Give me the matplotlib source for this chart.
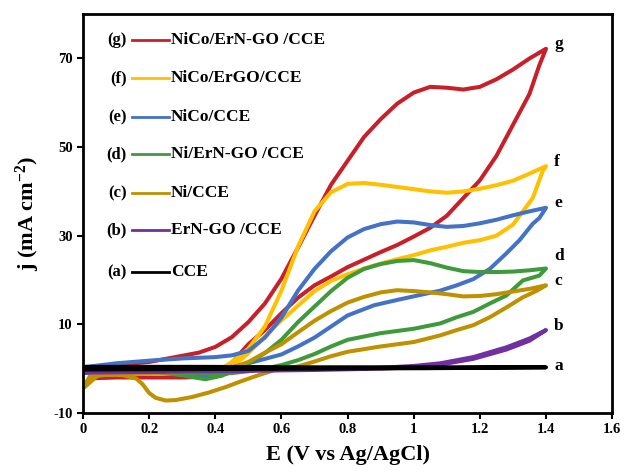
import matplotlib
matplotlib.use('Agg')
from matplotlib import pyplot as plt

# electrode labels, legend order (top to bottom)
tags = ['g', 'f', 'e', 'd', 'c', 'b', 'a']
names = ['NiCo/ErN-GO /CCE', 'NiCo/ErGO/CCE', 'NiCo/CCE', 'Ni/ErN-GO /CCE',
         'Ni/CCE', 'ErN-GO /CCE', 'CCE']
colors = ['#C8202A', '#FFC000', '#4472C4', '#3F9A3C', '#BF9000', '#7030A0', '#000000']

x_ticks = [0, 0.2, 0.4, 0.6, 0.8, 1.0, 1.2, 1.4, 1.6]
x_tick_labels = ['0', '0.2', '0.4', '0.6', '0.8', '1', '1.2', '1.4', '1.6']
y_ticks = [-10, 10, 30, 50, 70]
y_tick_labels = ['-10', '10', '30', '50', '70']

# (g) NiCo/ErN-GO/CCE, forward then reverse scan
g_E_fwd = [0.0, 0.1, 0.2, 0.3, 0.35, 0.4, 0.45, 0.5, 0.55, 0.6, 0.65, 0.7, 0.75, 0.8,
           0.85, 0.9, 0.95, 1.0, 1.05, 1.1, 1.15, 1.2, 1.25, 1.3, 1.35, 1.4]
g_j_fwd = [0.2, 0.8, 1.5, 2.9, 3.6, 4.9, 7.1, 10.5, 14.7, 20.3, 27.3, 34.5, 41.5, 46.9,
           52.3, 56.3, 59.8, 62.3, 63.6, 63.4, 63.0, 63.6, 65.3, 67.5, 70.0, 72.2]
g_E_rev = [1.38, 1.35, 1.3, 1.25, 1.2, 1.15, 1.1, 1.05, 1.0, 0.95, 0.9, 0.85, 0.8, 0.75,
           0.7, 0.65, 0.6, 0.55, 0.5, 0.47, 0.44, 0.4, 0.35, 0.3, 0.2, 0.1, 0.02, 0.0]
g_j_rev = [68.5, 62.0, 55.0, 48.0, 42.5, 38.5, 34.5, 31.8, 29.8, 27.9, 26.3, 24.6, 22.9, 20.8,
           18.8, 16.0, 12.5, 8.7, 5.5, 3.0, 0.5, -1.2, -1.9, -2.0, -2.0, -2.0, -2.2, -4.0]

# (f) NiCo/ErGO/CCE
f_E_fwd = [0.0, 0.1, 0.2, 0.3, 0.38, 0.42, 0.45, 0.5, 0.55, 0.6, 0.65, 0.7, 0.75, 0.8,
           0.85, 0.9, 0.95, 1.0, 1.05, 1.1, 1.15, 1.2, 1.25, 1.3, 1.35, 1.4]
f_j_fwd = [-0.5, -0.3, -0.2, -0.3, -0.6, 0.0, 1.5, 4.5, 9.5, 17.6, 27.5, 35.5, 39.8, 41.7,
           41.9, 41.5, 41.0, 40.5, 40.0, 39.7, 40.0, 40.6, 41.4, 42.4, 44.0, 45.7]
f_E_rev = [1.39, 1.36, 1.33, 1.3, 1.25, 1.2, 1.15, 1.1, 1.05, 1.0, 0.95, 0.9, 0.85, 0.8,
           0.75, 0.7, 0.65, 0.6, 0.55, 0.5, 0.45, 0.4, 0.35, 0.3, 0.2, 0.1, 0.0]
f_j_rev = [44.6, 38.5, 35.5, 32.5, 30.0, 29.0, 28.4, 27.5, 26.7, 25.6, 24.7, 23.7, 22.6, 21.3,
           19.8, 17.5, 14.2, 10.9, 7.2, 3.5, 0.3, -1.0, -1.0, -0.8, -0.8, -0.8, -1.0]

# (e) NiCo/CCE
e_E_fwd = [0.0, 0.1, 0.2, 0.3, 0.4, 0.45, 0.5, 0.55, 0.6, 0.65, 0.7, 0.75, 0.8, 0.85,
           0.9, 0.95, 1.0, 1.05, 1.1, 1.15, 1.2, 1.25, 1.3, 1.35, 1.4]
e_j_fwd = [0.3, 1.2, 1.8, 2.3, 2.6, 3.0, 4.0, 7.0, 11.5, 17.6, 22.5, 26.5, 29.6, 31.5,
           32.6, 33.2, 33.0, 32.4, 32.0, 32.2, 32.8, 33.6, 34.6, 35.5, 36.3]
e_E_rev = [1.38, 1.36, 1.32, 1.28, 1.23, 1.18, 1.13, 1.08, 1.03, 0.95, 0.88, 0.8, 0.75,
           0.7, 0.65, 0.6, 0.55, 0.5, 0.45, 0.4, 0.36, 0.3, 0.2, 0.1, 0.0]
e_j_rev = [34.0, 32.7, 29.0, 26.0, 22.5, 20.2, 18.8, 17.6, 16.8, 15.5, 14.3, 12.0, 9.5,
           7.0, 5.0, 3.2, 2.2, 1.2, 0.3, -1.2, -1.6, -1.0, -0.5, -0.6, -1.0]

# (d) Ni/ErN-GO/CCE
d_E_fwd = [0.0, 0.1, 0.2, 0.3, 0.37, 0.42, 0.47, 0.5, 0.55, 0.6, 0.65, 0.7, 0.75, 0.8,
           0.85, 0.9, 0.95, 1.0, 1.05, 1.1, 1.15, 1.2, 1.25, 1.3, 1.35, 1.4]
d_j_fwd = [0.0, -0.2, -0.6, -1.5, -2.4, -1.6, 0.0, 1.2, 3.5, 6.5, 10.5, 14.0, 17.5, 20.5,
           22.5, 23.6, 24.3, 24.5, 23.8, 22.8, 22.0, 21.8, 21.8, 21.9, 22.2, 22.6]
d_E_rev = [1.38, 1.33, 1.28, 1.23, 1.18, 1.13, 1.08, 1.0, 0.9, 0.8, 0.75, 0.7, 0.65,
           0.6, 0.55, 0.5, 0.45, 0.4, 0.3, 0.2, 0.1, 0.0]
d_j_rev = [21.0, 19.9, 16.5, 14.7, 12.8, 11.6, 10.2, 9.0, 8.0, 6.5, 5.0, 3.3, 1.9,
           0.8, 0.0, -0.6, -1.0, -1.2, -0.8, -0.6, -0.6, -0.5]

# (c) Ni/CCE
c_E_fwd = [0.0, 0.02, 0.1, 0.2, 0.3, 0.4, 0.45, 0.5, 0.55, 0.6, 0.65, 0.7, 0.75, 0.8,
           0.85, 0.9, 0.95, 1.0, 1.05, 1.1, 1.15, 1.2, 1.25, 1.3, 1.35, 1.4]
c_j_fwd = [-4.5, -1.8, -1.2, -1.0, -0.8, -0.5, 0.2, 1.5, 3.6, 5.5, 8.2, 10.8, 13.0, 14.9,
           16.2, 17.2, 17.7, 17.5, 17.2, 16.8, 16.3, 16.4, 16.8, 17.4, 18.0, 18.8]
c_E_rev = [1.37, 1.33, 1.28, 1.23, 1.18, 1.13, 1.08, 1.0, 0.9, 0.8, 0.75, 0.7, 0.65, 0.58,
           0.53, 0.48, 0.43, 0.38, 0.33, 0.28, 0.25, 0.22, 0.2, 0.18, 0.16, 0.12, 0.05, 0.0]
c_j_rev = [17.5, 16.1, 13.8, 11.6, 9.8, 8.7, 7.5, 6.0, 5.0, 3.8, 2.8, 1.6, 0.5, -0.3,
           -1.5, -2.8, -4.2, -5.4, -6.4, -7.1, -7.2, -6.6, -5.5, -3.5, -2.2, -1.5, -1.2, -4.5]

# (b) ErN-GO/CCE
b_E_fwd = [0.0, 0.2, 0.4, 0.6, 0.8, 0.9, 1.0, 1.08, 1.18, 1.28, 1.35, 1.4]
b_j_fwd = [-0.8, -0.6, -0.4, -0.2, 0.0, 0.2, 0.6, 1.2, 2.6, 4.8, 6.8, 8.7]
b_E_rev = [1.35, 1.28, 1.18, 1.08, 1.0, 0.9, 0.7, 0.4, 0.0]
b_j_rev = [6.3, 4.3, 2.2, 0.9, 0.3, 0.0, -0.3, -0.6, -0.9]

# (a) CCE
a_E_fwd = [0.0, 0.35, 0.7, 1.05, 1.4]
a_j_fwd = [0.4, 0.4, 0.3, 0.3, 0.3]
a_E_rev = [1.05, 0.7, 0.35, 0.0]
a_j_rev = [0.1, 0.0, -0.1, -0.2]

curves = [
    (g_E_fwd + g_E_rev, g_j_fwd + g_j_rev),
    (f_E_fwd + f_E_rev, f_j_fwd + f_j_rev),
    (e_E_fwd + e_E_rev, e_j_fwd + e_j_rev),
    (d_E_fwd + d_E_rev, d_j_fwd + d_j_rev),
    (c_E_fwd + c_E_rev, c_j_fwd + c_j_rev),
    (b_E_fwd + b_E_rev, b_j_fwd + b_j_rev),
    (a_E_fwd + a_E_rev, a_j_fwd + a_j_rev),
]

plt.rcParams['font.family'] = ['Liberation Serif', 'DejaVu Serif']
plt.rcParams['font.weight'] = 'bold'
plt.rcParams['mathtext.fontset'] = 'custom'
plt.rcParams['mathtext.rm'] = 'Liberation Serif:bold'
plt.rcParams['mathtext.it'] = 'Liberation Serif:bold'
plt.rcParams['mathtext.bf'] = 'Liberation Serif:bold'

fig = plt.figure(figsize=(6.24, 4.73), dpi=100)
ax = fig.add_axes([0.133, 0.127, 0.848, 0.843])

for (E, j), col, tag in zip(curves, colors, tags):
    ax.plot(E, j, color=col, lw=2.9, solid_capstyle='round', solid_joinstyle='round')
    # letter at the end of each curve
    ax.text(1.425, max(j) + 1.0 if tag != 'a' else j[len(j) // 2] + 0.4, tag,
            fontsize=12.5, fontweight='bold', ha='left', va='center')

# hand-made legend
row_y = [0.935, 0.840, 0.742, 0.649, 0.551, 0.459, 0.353]
for tag, name, col, yy in zip(tags, names, colors, row_y):
    ax.text(0.082, yy, '(%s)' % tag, transform=ax.transAxes, fontsize=12,
            fontweight='bold', ha='right', va='center')
    ax.plot([0.092, 0.162], [yy, yy], transform=ax.transAxes, color=col, lw=2.0)
    ax.text(0.166, yy, name, transform=ax.transAxes, fontsize=12.5,
            fontweight='bold', ha='left', va='center')

ax.set_xlim(0, 1.6)
ax.set_ylim(-10, 80)
ax.set_xticks(x_ticks)
ax.set_xticklabels(x_tick_labels)
ax.set_yticks(y_ticks)
ax.set_yticklabels(y_tick_labels)
ax.tick_params(labelsize=10.5, width=1.5, length=4, direction='out')
for lab in ax.get_xticklabels() + ax.get_yticklabels():
    lab.set_fontweight('bold')
for sp in ax.spines.values():
    sp.set_linewidth(2.0)

ax.set_xlabel('E (V vs Ag/AgCl)', fontsize=16, fontweight='bold', labelpad=6)
ax.set_ylabel('j (mA cm$^{-2}$)', fontsize=16, fontweight='bold', labelpad=8)

fig.savefig('out.png', dpi=100)
